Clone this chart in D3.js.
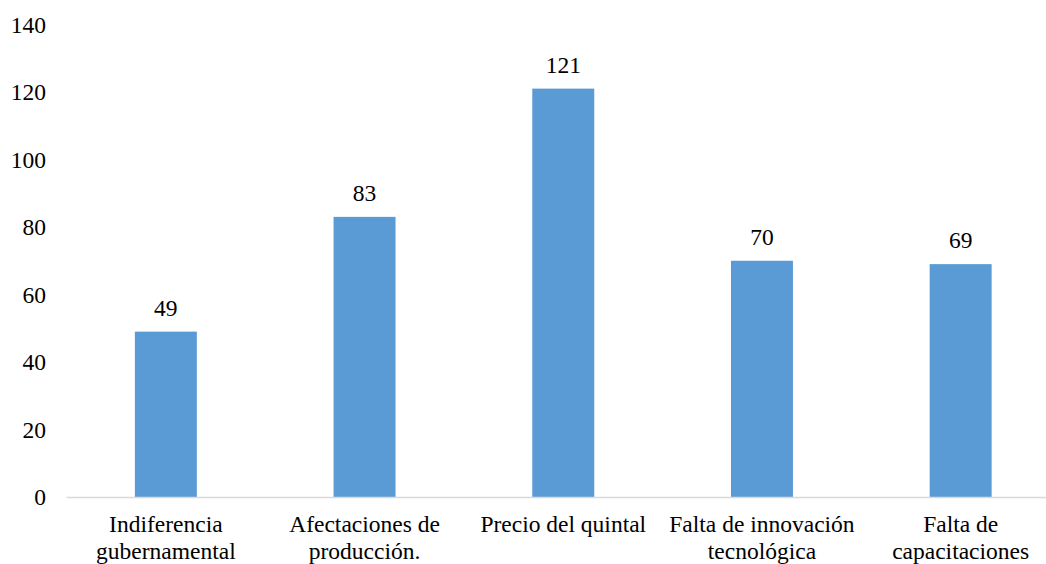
<!DOCTYPE html>
<html>
<head>
<meta charset="utf-8">
<script src="https://cdn.jsdelivr.net/npm/d3@7"></script>
<style>
  body { margin: 0; background: #fff; }
</style>
</head>
<body>
<div id="chart"></div>
<script>
var categories = [
  ["Indiferencia", "gubernamental"],
  ["Afectaciones de", "producción."],
  ["Precio del quintal"],
  ["Falta de innovación", "tecnológica"],
  ["Falta de", "capacitaciones"]
];
var values = [49, 83, 121, 70, 69];
var yTicks = [0, 20, 40, 60, 80, 100, 120, 140];

var width = 1046, height = 564;
var FONT = "'Liberation Serif', 'Times New Roman', Times, serif";
var FS = 23.5;

var svg = d3.select("#chart").append("svg")
  .attr("width", width)
  .attr("height", height)
  .style("display", "block");

var xScale = d3.scaleBand()
  .domain(d3.range(values.length))
  .range([66.5, 1060])
  .paddingInner(0.688)
  .paddingOuter(0.344);

var yScale = d3.scaleLinear()
  .domain([0, 140])
  .range([497, 24.5]);

// y labels (no axis line in the original)
svg.append("g")
  .selectAll("text")
  .data(yTicks)
  .enter().append("text")
    .attr("x", 46)
    .attr("y", function(d){ return yScale(d); })
    .attr("dy", "0.35em")
    .attr("text-anchor", "end")
    .attr("font-family", FONT)
    .attr("font-size", FS)
    .text(function(d){ return d; });

// bars
svg.append("g")
  .selectAll("rect")
  .data(values)
  .enter().append("rect")
    .attr("x", function(d, i){ return xScale(i); })
    .attr("y", function(d){ return yScale(d); })
    .attr("width", xScale.bandwidth())
    .attr("height", function(d){ return yScale(0) - yScale(d); })
    .style("fill", "#5b9bd5");

// baseline
svg.append("line")
  .attr("x1", 66.5)
  .attr("x2", width)
  .attr("y1", yScale(0) + 0.5)
  .attr("y2", yScale(0) + 0.5)
  .style("stroke", "#d9d9d9")
  .style("stroke-width", 1.5);

// value labels
svg.append("g")
  .selectAll("text")
  .data(values)
  .enter().append("text")
    .attr("x", function(d, i){ return xScale(i) + xScale.bandwidth() / 2; })
    .attr("y", function(d){ return yScale(d) - 16; })
    .attr("text-anchor", "middle")
    .attr("font-family", FONT)
    .attr("font-size", FS)
    .text(function(d){ return d; });

// category labels
var catLabels = svg.append("g")
  .selectAll("text")
  .data(categories)
  .enter().append("text")
    .attr("text-anchor", "middle")
    .attr("font-family", FONT)
    .attr("font-size", FS)
    .attr("transform", function(d, i){
      return "translate(" + (xScale(i) + xScale.bandwidth() / 2) + ",532)";
    });

catLabels.selectAll("tspan")
  .data(function(d){ return d; })
  .enter().append("tspan")
    .attr("x", 0)
    .attr("y", function(d, j){ return j * 27; })
    .text(function(d){ return d; });
</script>
</body>
</html>
